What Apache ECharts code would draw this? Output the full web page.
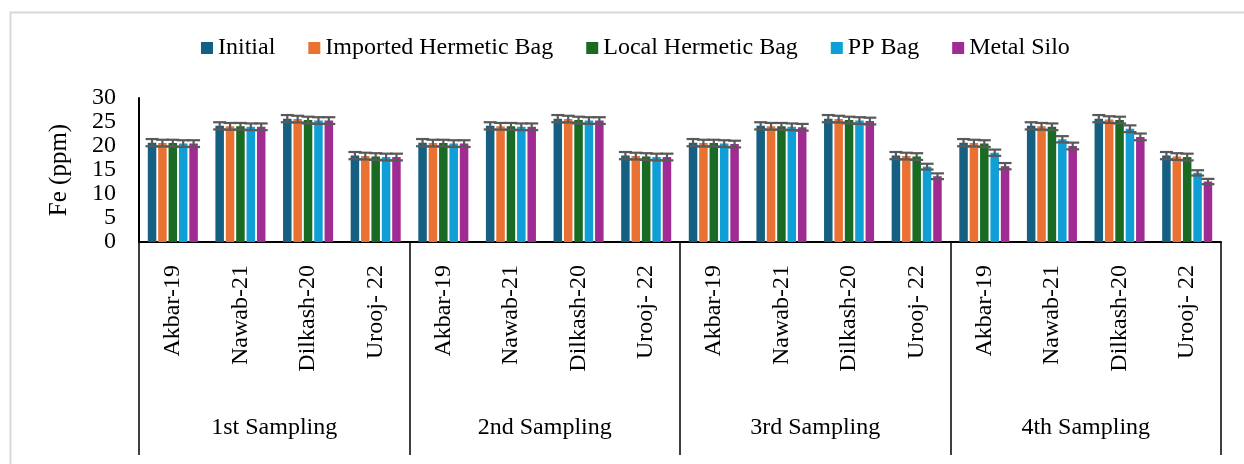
<!DOCTYPE html>
<html>
<head>
<meta charset="utf-8">
<script src="https://cdn.jsdelivr.net/npm/echarts@6/dist/echarts.min.js"></script>
<style>
  html, body { margin: 0; padding: 0; background: #ffffff; }
  #chart { width: 1244px; height: 464px; }
</style>
</head>
<body>
<div id="chart"></div>
<script>
// Wheat varieties (inner category level) and sampling rounds (outer level)
const varieties = ['Akbar-19', 'Nawab-21', 'Dilkash-20', 'Urooj- 22'];
const samplings = ['1st Sampling', '2nd Sampling', '3rd Sampling', '4th Sampling'];
const seriesNames = ['Initial', 'Imported Hermetic Bag', 'Local Hermetic Bag', 'PP Bag', 'Metal Silo'];

// Fe (ppm), ordered sampling by sampling: Akbar-19, Nawab-21, Dilkash-20, Urooj- 22
const initial  = [20.7, 24.2, 25.7, 18.0,  20.7, 24.2, 25.7, 18.0,  20.7, 24.2, 25.7, 18.0,  20.7, 24.2, 25.7, 18.0];
const imported = [20.6, 24.1, 25.6, 17.9,  20.6, 24.1, 25.6, 17.9,  20.6, 24.1, 25.6, 17.9,  20.6, 24.1, 25.5, 17.8];
const local    = [20.6, 24.1, 25.4, 17.8,  20.6, 24.1, 25.4, 17.8,  20.6, 24.1, 25.4, 17.8,  20.5, 24.0, 25.4, 17.7];
const ppBag    = [20.5, 24.0, 25.3, 17.7,  20.5, 24.0, 25.3, 17.7,  20.5, 24.0, 25.3, 15.7,  18.6, 21.4, 23.6, 14.4];
const metalSilo= [20.5, 24.0, 25.3, 17.7,  20.5, 24.0, 25.3, 17.7,  20.4, 23.9, 25.2, 13.7,  15.8, 20.0, 21.9, 12.6];

// Standard deviations shown as error bars
const errInitial  = [0.75, 0.75, 0.75, 0.75,  0.75, 0.75, 0.75, 0.75,  0.75, 0.75, 0.75, 0.75,  0.75, 0.75, 0.75, 0.75];
const errImported = [0.7, 0.7, 0.7, 0.7,  0.7, 0.7, 0.7, 0.7,  0.7, 0.7, 0.7, 0.7,  0.7, 0.7, 0.7, 0.7];
const errLocal    = [0.7, 0.7, 0.7, 0.7,  0.7, 0.7, 0.7, 0.7,  0.7, 0.7, 0.7, 0.7,  0.7, 0.7, 0.7, 0.7];
const errPP       = [0.7, 0.7, 0.7, 0.7,  0.7, 0.7, 0.7, 0.7,  0.7, 0.7, 0.7, 0.6,  0.65, 0.65, 0.7, 0.55];
const errMetal    = [0.7, 0.7, 0.7, 0.7,  0.7, 0.7, 0.7, 0.7,  0.7, 0.7, 0.7, 0.6,  0.65, 0.7, 0.7, 0.55];

const yTicks = [0, 5, 10, 15, 20, 25, 30];

const values = [initial, imported, local, ppBag, metalSilo];
const errors = [errInitial, errImported, errLocal, errPP, errMetal];
const colors = ['#156082', '#E97132', '#196B24', '#0F9ED5', '#A02B93'];

const FONT = "'Liberation Serif', 'Times New Roman', serif";
const CAT_GAP = 0.26;   // barCategoryGap
const BAR_GAP = 0.22;   // barGap
const N = seriesNames.length;

// one entry per bar cluster: variety within sampling
const categories = [];
samplings.forEach((s, g) => varieties.forEach(v => categories.push(v + '|' + g)));

function errorBars(slot) {
  return function (params, api) {
    const cat = api.value(0), val = api.value(1), err = api.value(2);
    const band = api.size([1, 0])[0];
    const barW = band * (1 - CAT_GAP) / (N + (N - 1) * BAR_GAP);
    const pitch = barW * (1 + BAR_GAP);
    const x = api.coord([cat, val])[0] + (slot - (N - 1) / 2) * pitch;
    const hi = api.coord([cat, val + err])[1];
    const lo = api.coord([cat, val - err])[1];
    const half = 6.5;
    const st = { stroke: '#595959', lineWidth: 2.2 };
    return {
      type: 'group',
      children: [
        { type: 'line', shape: { x1: x, y1: hi, x2: x, y2: lo }, style: st },
        { type: 'line', shape: { x1: x - half, y1: hi, x2: x + half, y2: hi }, style: st },
        { type: 'line', shape: { x1: x - half, y1: lo, x2: x + half, y2: lo }, style: st }
      ]
    };
  };
}

const series = [];
seriesNames.forEach((name, i) => {
  series.push({
    name: name,
    type: 'bar',
    data: values[i],
    itemStyle: { color: colors[i] },
    barCategoryGap: (CAT_GAP * 100) + '%',
    barGap: (BAR_GAP * 100) + '%',
    z: 2
  });
});
seriesNames.forEach((name, i) => {
  series.push({
    name: name + ' SD',
    type: 'custom',
    renderItem: errorBars(i),
    data: values[i].map((v, k) => [k, v, errors[i][k]]),
    encode: { x: 0, y: 1 },
    z: 5,
    silent: true
  });
});

const chart = echarts.init(document.getElementById('chart'), null, { renderer: 'canvas' });
chart.setOption({
  animation: false,
  backgroundColor: '#ffffff',
  textStyle: { fontFamily: FONT, color: '#000' },
  graphic: [{
    type: 'rect',
    left: 8, top: 10, z: -10,
    shape: { width: 1260, height: 480 },
    style: { fill: 'none', stroke: '#d9d9d9', lineWidth: 2 }
  }],
  legend: {
    data: seriesNames,
    left: 201,
    top: 36,
    padding: 0,
    icon: 'rect',
    itemWidth: 12,
    itemHeight: 12,
    itemGap: 33,
    textStyle: { fontFamily: FONT, fontSize: 24, color: '#000' }
  },
  grid: {
    left: 139, right: 23, top: 98, bottom: 222,
    containLabel: false,
    outerBoundsMode: 'none'
  },
  xAxis: [{
    type: 'category',
    position: 'bottom',
    data: categories,
    axisLine: { show: true, onZero: false, lineStyle: { color: '#000', width: 2 } },
    axisTick: { show: false },
    axisLabel: {
      interval: 0, rotate: 90, margin: 23,
      fontFamily: FONT, fontSize: 24, color: '#000',
      formatter: v => v.split('|')[0]
    },
    splitLine: { show: false }
  }, {
    type: 'category',
    position: 'bottom',
    data: samplings,
    axisLine: { show: false, onZero: false },
    axisTick: { show: true, interval: 0, length: 213, lineStyle: { color: '#000', width: 1.5 } },
    axisLabel: { interval: 0, margin: 174, fontFamily: FONT, fontSize: 24, color: '#000' },
    splitLine: { show: false }
  }],
  yAxis: {
    type: 'value',
    min: yTicks[0],
    max: yTicks[yTicks.length - 1],
    interval: yTicks[1] - yTicks[0],
    name: 'Fe (ppm)',
    nameLocation: 'middle',
    nameRotate: 90,
    nameGap: 67,
    nameTextStyle: { fontFamily: FONT, fontSize: 25, color: '#000' },
    axisLine: { show: true, lineStyle: { color: '#000', width: 2 } },
    axisTick: { show: false },
    axisLabel: { margin: 23, fontFamily: FONT, fontSize: 24, color: '#000' },
    splitLine: { show: false }
  },
  series: series
});
</script>
</body>
</html>
